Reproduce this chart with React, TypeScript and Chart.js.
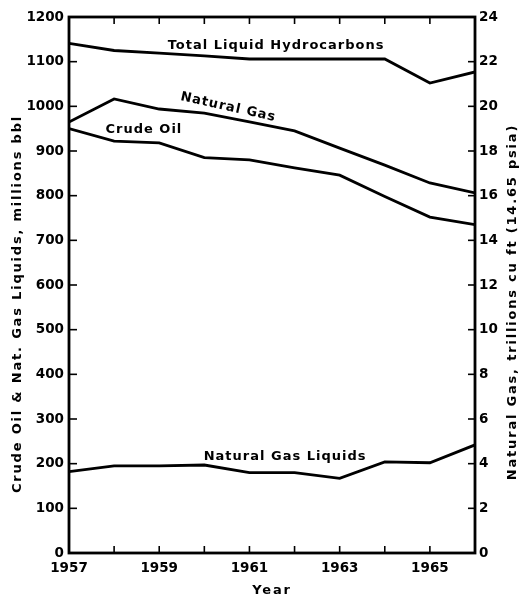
import React, { useEffect, useRef } from "react";
import { Chart, registerables } from "chart.js";

Chart.register(...registerables);

const years = [1957, 1958, 1959, 1960, 1961, 1962, 1963, 1964, 1965, 1966];
const totalLiquid = [1141, 1125, 1119, 1113, 1106, 1106, 1106, 1106, 1052, 1077];
const crudeOil = [950, 922, 918, 885, 880, 862, 846, 798, 752, 735];
const naturalGas = [19.3, 20.33, 19.88, 19.7, 19.3, 18.9, 18.13, 17.37, 16.57, 16.12];
const ngl = [182, 195, 195, 197, 180, 180, 167, 204, 202, 242];

const seriesLabels = [
  { text: "Total Liquid Hydrocarbons", x: 1961.59, y: 1135, rot: 0 },
  { text: "Natural Gas", x: 1960.53, y: 998, rot: 12.5 },
  { text: "Crude Oil", x: 1958.66, y: 947, rot: 0 },
  { text: "Natural Gas Liquids", x: 1961.79, y: 215, rot: 0 },
];

const xTitle = "Year";
const yTitle = "Crude Oil & Nat. Gas Liquids, millions bbl";
const y1Title = "Natural Gas, trillions cu ft (14.65 psia)";

const FONT = "'DejaVu Sans', sans-serif";

const framePlugin = {
  id: "frame",
  afterDraw(chart: any) {
    const { ctx, chartArea, scales } = chart;
    const { left, right, top, bottom } = chartArea;
    ctx.save();
    ctx.strokeStyle = "#000";
    ctx.lineCap = "butt";
    ctx.lineWidth = 1.6;
    const line = (x1: number, y1: number, x2: number, y2: number) => {
      ctx.beginPath();
      ctx.moveTo(x1, y1);
      ctx.lineTo(x2, y2);
      ctx.stroke();
    };
    scales.x.ticks.forEach((t: any) => {
      const px = scales.x.getPixelForValue(t.value);
      line(px, bottom, px, bottom - 7);
      line(px, top, px, top + 7);
    });
    scales.y.ticks.forEach((t: any) => {
      const py = scales.y.getPixelForValue(t.value);
      line(left, py, left + 8, py);
    });
    scales.y1.ticks.forEach((t: any) => {
      const py = scales.y1.getPixelForValue(t.value);
      line(right - 7, py, right, py);
    });
    ctx.lineWidth = 2.8;
    ctx.strokeRect(left, top, right - left, bottom - top);

    ctx.fillStyle = "#000";
    ctx.font = "bold 13px " + FONT;
    (ctx as any).letterSpacing = "1px";
    ctx.textAlign = "center";
    ctx.textBaseline = "middle";
    seriesLabels.forEach((l) => {
      const px = scales.x.getPixelForValue(l.x);
      const py = scales.y.getPixelForValue(l.y);
      ctx.save();
      ctx.translate(px, py);
      ctx.rotate((l.rot * Math.PI) / 180);
      ctx.fillText(l.text, 0, 0);
      ctx.restore();
    });

    // axis titles
    (ctx as any).letterSpacing = "1.8px";
    const cx = (left + right) / 2;
    ctx.fillText(xTitle, cx, bottom + 38);
    const cy = (top + bottom) / 2 + 19;
    ctx.save();
    ctx.translate(left - 51, cy);
    ctx.rotate(-Math.PI / 2);
    ctx.fillText(yTitle, 0, 0);
    ctx.restore();
    ctx.save();
    ctx.translate(right + 38, cy - 2);
    ctx.rotate(-Math.PI / 2);
    ctx.fillText(y1Title, 0, 0);
    ctx.restore();
    ctx.restore();
  },
};

export default function App() {
  const ref = useRef<HTMLCanvasElement>(null);
  useEffect(() => {
    if (!ref.current) return;
    const ds = (data: number[], axis: string) => ({
      data: years.map((y, i) => ({ x: y, y: data[i] })),
      borderColor: "#000",
      borderWidth: 2.8,
      pointRadius: 0,
      tension: 0,
      fill: false,
      yAxisID: axis,
    });
    const tickFont = { family: FONT, size: 13.5, weight: "bold" as const };
    const chart = new Chart(ref.current, {
      type: "line",
      data: {
        datasets: [
          ds(totalLiquid, "y"),
          ds(crudeOil, "y"),
          ds(naturalGas, "y1"),
          ds(ngl, "y"),
        ],
      },
      plugins: [framePlugin],
      options: {
        animation: false,
        responsive: false,
        devicePixelRatio: 1,
        layout: { padding: { top: 17, left: 0, right: 0, bottom: 0 } },
        plugins: { legend: { display: false }, tooltip: { enabled: false } },
        scales: {
          x: {
            type: "linear",
            min: 1957,
            max: 1966,
            afterFit: (s: any) => {
              s.height = 44;
            },
            grid: { display: false, drawTicks: false },
            border: { display: false },
            ticks: {
              stepSize: 1,
              autoSkip: false,
              maxRotation: 0,
              padding: 7,
              color: "#000",
              font: tickFont,
              callback: (v: any) => (v % 2 === 1 && v < 1966 ? String(v) : ""),
            },
          },
          y: {
            position: "left",
            min: 0,
            max: 1200,
            afterFit: (s: any) => {
              s.width = 69;
            },
            grid: { display: false, drawTicks: false },
            border: { display: false },
            ticks: {
              stepSize: 100,
              padding: 5,
              color: "#000",
              font: tickFont,
              callback: (v: any) => String(v),
            },
          },
          y1: {
            position: "right",
            min: 0,
            max: 24,
            afterFit: (s: any) => {
              s.width = 45;
            },
            grid: { display: false, drawTicks: false },
            border: { display: false },
            ticks: {
              stepSize: 2,
              padding: 4,
              color: "#000",
              font: tickFont,
              callback: (v: any) => String(v),
            },
          },
        },
      },
    } as any);
    return () => chart.destroy();
  }, []);
  return (
    <canvas
      ref={ref}
      width={520}
      height={597}
      style={{ position: "absolute", left: 0, top: 0, width: 520, height: 597 }}
    />
  );
}
